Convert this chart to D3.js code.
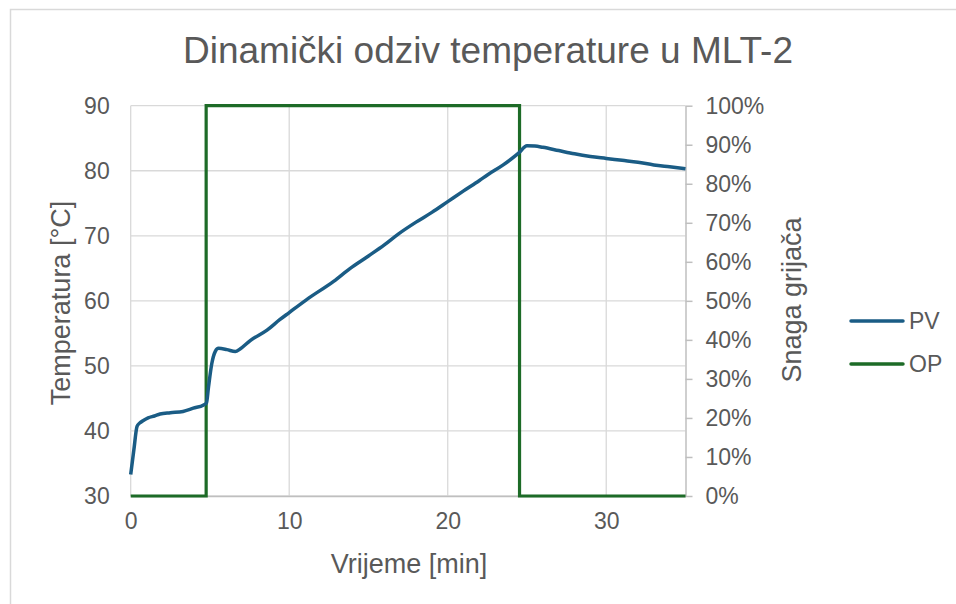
<!DOCTYPE html>
<html>
<head>
<meta charset="utf-8">
<script src="https://cdn.jsdelivr.net/npm/d3@7"></script>
<style>
  body { margin: 0; background: #fff; }
  text { font-family: "Liberation Sans", Arial, sans-serif; fill: #595959; }
</style>
</head>
<body>
<script>
// PV - temperature readings [°C] against time [min]
const pvTime = [0, 0.2, 0.4, 0.56, 0.8, 1.1, 1.5, 1.85, 2.5, 3.3, 3.95, 4.6, 4.78, 4.91, 5.12, 5.33, 5.54, 6.07, 6.6, 6.9, 7.54, 8.6, 9.4, 10, 11.1, 12.8, 13.85, 15, 16, 16.9, 18, 19, 20, 21, 22, 22.5, 23.5, 24.47, 25, 25.5, 26, 27, 28, 29, 30, 31, 32, 33, 34, 35];
const pvTemp = [33.3, 37.1, 40.7, 41.2, 41.6, 42.0, 42.3, 42.6, 42.8, 43.0, 43.5, 44.0, 44.3, 46.8, 50.4, 52.2, 52.7, 52.5, 52.2, 52.6, 53.9, 55.5, 57.1, 58.2, 60.2, 63.0, 65.0, 66.9, 68.6, 70.3, 72.1, 73.6, 75.25, 76.9, 78.5, 79.35, 80.9, 82.7, 83.85, 83.8, 83.6, 83.1, 82.6, 82.2, 81.9, 81.6, 81.3, 80.9, 80.6, 80.3];

// OP - heater power [%]
const opTime = [0, 4.76, 4.76, 24.53, 24.53, 35];
const opValue = [0, 0, 100, 100, 0, 0];

const xTicks = [0, 10, 20, 30];
const yTicks = [30, 40, 50, 60, 70, 80, 90];
const y2Ticks = [0, 10, 20, 30, 40, 50, 60, 70, 80, 90, 100];

const W = 956, H = 604;
const margin = { top: 105.7, right: 270.5, bottom: 108, left: 130.7 };
const width = W - margin.left - margin.right;
const height = H - margin.top - margin.bottom;

const svg = d3.select('body')
    .append('svg')
    .attr('width', W)
    .attr('height', H);

// outer chart border
svg.append('rect')
    .attr('x', 10.5).attr('y', 9.5)
    .attr('width', 980).attr('height', 640)
    .attr('fill', 'none')
    .attr('stroke', '#d9d9d9')
    .attr('stroke-width', 1.5);

svg.append('text')
    .attr('x', 488).attr('y', 63)
    .attr('text-anchor', 'middle')
    .style('font-size', '37px')
    .text('Dinamički odziv temperature u MLT-2');

const g = svg.append('g')
    .attr('transform', `translate(${margin.left},${margin.top})`);

const x = d3.scaleLinear().domain([0, 35]).range([0, width]);
const y = d3.scaleLinear().domain([30, 90]).range([height, 0]);
const y2 = d3.scaleLinear().domain([0, 100]).range([height, 0]);

// gridlines
g.append('g')
    .selectAll('line')
    .data(yTicks)
    .join('line')
    .attr('x1', 0).attr('x2', width)
    .attr('y1', d => y(d)).attr('y2', d => y(d))
    .attr('stroke', '#d9d9d9')
    .attr('stroke-width', 1.3);
g.append('g')
    .selectAll('line')
    .data(xTicks)
    .join('line')
    .attr('x1', d => x(d)).attr('x2', d => x(d))
    .attr('y1', 0).attr('y2', height)
    .attr('stroke', '#d9d9d9')
    .attr('stroke-width', 1.3);

// X axis
const xAxis = g.append('g')
    .attr('transform', `translate(0,${height})`)
    .call(d3.axisBottom(x).tickValues(xTicks).tickSize(0).tickPadding(17));
xAxis.select('.domain').attr('stroke', '#bfbfbf').attr('stroke-width', 1.5);
xAxis.selectAll('text').style('font-size', '23px').attr('fill', '#595959');

// left Y axis
const yAxis = g.append('g')
    .call(d3.axisLeft(y).tickValues(yTicks).tickSize(0).tickPadding(21));
yAxis.select('.domain').remove();
yAxis.selectAll('text').style('font-size', '23px').attr('fill', '#595959');

// right Y axis
const y2Axis = g.append('g')
    .attr('transform', `translate(${width},0)`)
    .call(d3.axisRight(y2).tickValues(y2Ticks).tickSize(7).tickSizeOuter(0).tickPadding(13)
        .tickFormat(d => d + '%'));
y2Axis.select('.domain').attr('stroke', '#bfbfbf').attr('stroke-width', 1.5);
y2Axis.selectAll('line').attr('stroke', '#bfbfbf').attr('stroke-width', 1.5);
y2Axis.selectAll('text').style('font-size', '23px').attr('fill', '#595959');

// axis titles
svg.append('text')
    .attr('x', 409).attr('y', 573)
    .attr('text-anchor', 'middle')
    .style('font-size', '27px')
    .text('Vrijeme [min]');
svg.append('text')
    .attr('transform', 'translate(70,303) rotate(-90)')
    .attr('text-anchor', 'middle')
    .style('font-size', '27px')
    .text('Temperatura [°C]');
svg.append('text')
    .attr('transform', 'translate(801,300) rotate(-90)')
    .attr('text-anchor', 'middle')
    .style('font-size', '27px')
    .text('Snaga grijača');

// series
const opLine = d3.line()
    .x((d, i) => x(opTime[i]))
    .y(d => y2(d));
g.append('path')
    .datum(opValue)
    .attr('d', opLine)
    .attr('fill', 'none')
    .attr('stroke', '#1d6b27')
    .attr('stroke-width', 3.2);

const pvLine = d3.line()
    .x((d, i) => x(pvTime[i]))
    .y(d => y(d))
    .curve(d3.curveMonotoneX);
g.append('path')
    .datum(pvTemp)
    .attr('d', pvLine)
    .attr('fill', 'none')
    .attr('stroke', '#1a5c85')
    .attr('stroke-width', 3.5)
    .attr('stroke-linejoin', 'round');

// legend
const legend = [
    { name: 'PV', color: '#1a5c85' },
    { name: 'OP', color: '#1d6b27' }
];
const lg = svg.append('g')
    .selectAll('g')
    .data(legend)
    .join('g')
    .attr('transform', (d, i) => `translate(851,${321 + i * 43})`);
lg.append('line')
    .attr('x1', 0).attr('x2', 52)
    .attr('stroke', d => d.color)
    .attr('stroke-width', 3.5)
    .attr('stroke-linecap', 'round');
lg.append('text')
    .attr('x', 58).attr('dy', '0.35em')
    .style('font-size', '23px')
    .text(d => d.name);
</script>
</body>
</html>
